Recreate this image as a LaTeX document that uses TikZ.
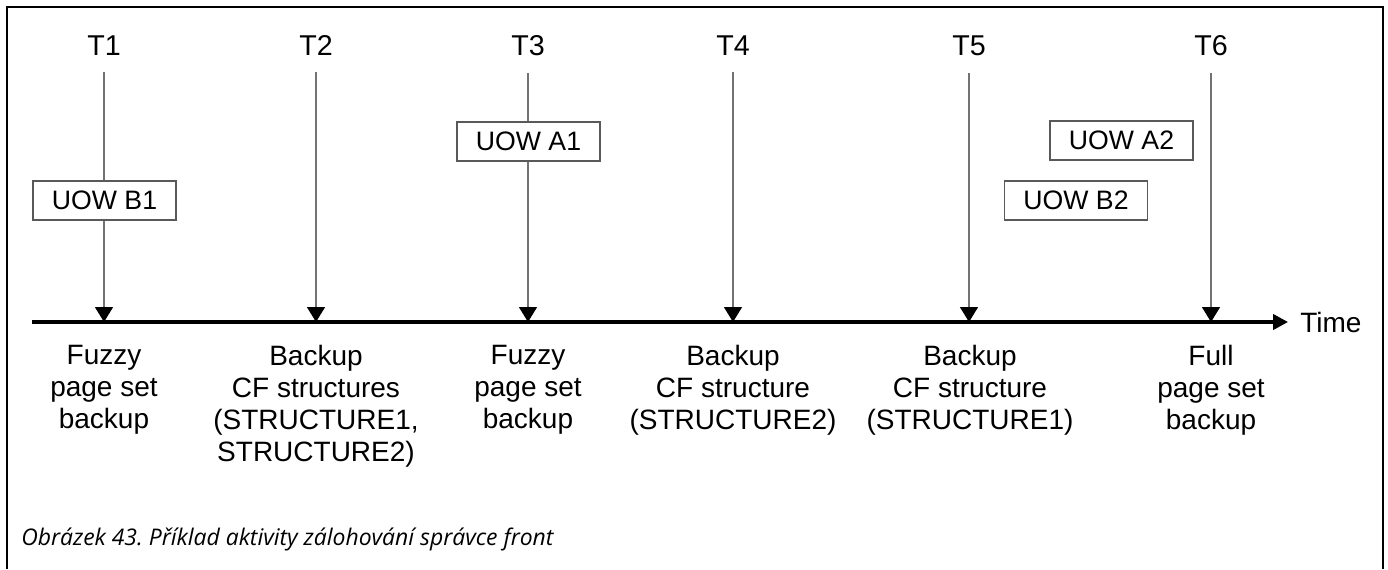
\documentclass[tikz,border=0pt]{standalone}
\usepackage{fontspec}
\setmainfont{Liberation Sans}
\newfontfamily\capfont{Open Sans}
\usetikzlibrary{arrows.meta}
\begin{document}
\begin{tikzpicture}[x=0.75pt,y=-0.75pt,
  frame/.style={line width=1.9pt},
  tlabel/.style={anchor=base, inner sep=0pt, font=\fontsize{21.5pt}{24pt}\selectfont},
  blabel/.style={anchor=north, inner sep=0pt, align=center, font=\fontsize{21pt}{24pt}\selectfont},
  tick/.style={draw=black!55, line width=1.1pt, shorten <=12.75pt,
    -{Triangle[length=11.25pt,width=13.5pt,color=black]}},
  axis/.style={line width=2.4pt, shorten >=9pt,
    -{Triangle[length=11.25pt,width=11.5pt]}},
  uow/.style={draw=black!65, line width=1.1pt, fill=white, inner sep=0pt,
    minimum width=107.25pt, minimum height=29.25pt, font=\fontsize{20pt}{24pt}\selectfont},
  caption/.style={anchor=base west, inner sep=0pt, font=\capfont\itshape\fontsize{17.2pt}{20pt}\selectfont}
]
\useasboundingbox (0,0) rectangle (1388,569);
\draw[frame] (7,569) -- (7,7) -- (1383,7) -- (1383,569);

% time labels
\node[tlabel] (t1) at (104,55) {T1};
\node[tlabel] (t2) at (316,55) {T2};
\node[tlabel] (t3) at (528,55) {T3};
\node[tlabel] (t4) at (733,55) {T4};
\node[tlabel] (t5) at (969,55) {T5};
\node[tlabel] (t6) at (1211,55) {T6};

% axis points
\coordinate (e1) at (104,322);
\coordinate (e2) at (316,322);
\coordinate (e3) at (528,322);
\coordinate (e4) at (733,322);
\coordinate (e5) at (969,322);
\coordinate (e6) at (1211,322);
\coordinate (ax0) at (32,322);
\node[anchor=west, inner sep=0pt, font=\fontsize{21pt}{24pt}\selectfont] (time) at (1300,322) {Time};

\draw[axis] (ax0) -- (time.west);
\foreach \i in {1,...,6} \draw[tick] (t\i.south) -- (e\i);

% units of work
\node[uow] (b1) at (104.5,200.5) {UOW B1};
\node[uow] (a1) at (528.5,141.5) {UOW A1};
\node[uow] (a2) at (1121.5,140.5) {UOW A2};
\node[uow] (b2) at (1076,200.5) {UOW B2};

% descriptions
\node[blabel] (d1) at (104,345) {Fuzzy\\page set\\backup};
\node[blabel] (d2) at (316,345) {Backup\\CF structures\\(STRUCTURE1,\\STRUCTURE2)};
\node[blabel] (d3) at (528,345) {Fuzzy\\page set\\backup};
\node[blabel] (d4) at (733,345) {Backup\\CF structure\\(STRUCTURE2)};
\node[blabel] (d5) at (970,345) {Backup\\CF structure\\(STRUCTURE1)};
\node[blabel] (d6) at (1211,345) {Full\\page set\\backup};

\node[caption] (cap) at (21,545) {Obrázek 43.\ Příklad aktivity zálohování správce front};
\end{tikzpicture}
\end{document}
